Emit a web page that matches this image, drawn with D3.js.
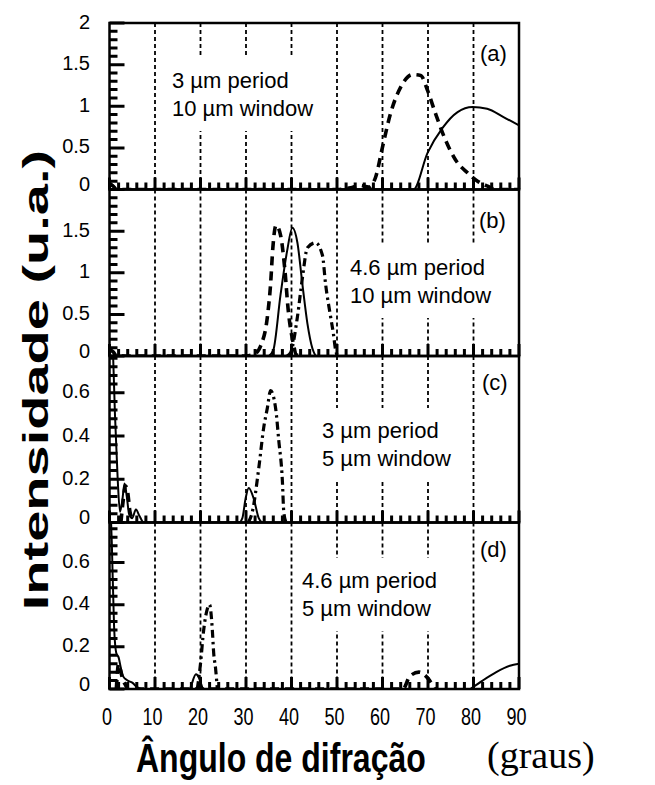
<!DOCTYPE html>
<html><head><meta charset="utf-8">
<script src="https://cdn.jsdelivr.net/npm/d3@7"></script>
<style>body{margin:0;background:#fff}svg{display:block}</style>
</head><body>
<svg id="c" width="655" height="785"></svg>
<script>
// ---------- data ----------
const xTickLabels = [0,10,20,30,40,50,60,70,80,90];
const gridAngles = [10,20,30,40,50,60,70,80];
const panelLetters = ["(a)","(b)","(c)","(d)"];
const periodText = ["3 \u00b5m period","4.6 \u00b5m period","3 \u00b5m period","4.6 \u00b5m period"];
const windowText = ["10 \u00b5m window","10 \u00b5m window","5 \u00b5m window","5 \u00b5m window"];
const yMax = [2, 2, 0.77, 0.79];
const yTicksA = [0,0.5,1,1.5,2];
const yTicksB = [0,0.5,1,1.5];
const yTicksC = [0,0.2,0.4,0.6];
const yTicksD = [0,0.2,0.4,0.6];
const yMinorStep = [0.1,0.1,0.04,0.04];

// panel (a)
const aDashX = [0,0.8,1.6,50,53,55,57,58.5,60,61.8,64,66.6,68.4,69.9,71.6,73.8,76,78.7,80.9,83.1,85,90];
const aDashY = [0.07,0.04,0,0,0.02,0.05,0.03,0.15,0.51,0.92,1.23,1.38,1.37,1.19,0.92,0.6,0.36,0.2,0.1,0.04,0,0];
const aSolidX = [0,0.8,1.6,60,66.8,69.9,73.2,76.5,79.8,83,86.6,90];
const aSolidY = [0.09,0.05,0,0,0,0.44,0.74,0.93,0.99,0.97,0.87,0.77];
// panel (b)
const bDashX = [0,0.8,1.6,30,32,33.2,34.7,35.4,35.9,36.6,37.6,38.5,39.3,40.4,41,42];
const bDashY = [0.08,0.05,0,0,0.03,0.12,0.47,0.86,1.3,1.57,1.45,1.06,0.54,0.15,0.02,0];
const bSolidX = [35,36,37.6,39,40.2,41.3,42.4,43.5,44.6,45.3];
const bSolidY = [0,0.07,0.74,1.25,1.54,1.36,0.86,0.39,0.09,0];
const bDashDotX = [39,39.8,41.3,42.4,43.5,45.3,46.8,47.5,48.6,49.2,49.7,50.2];
const bDashDotY = [0,0.04,0.47,0.94,1.3,1.36,1.21,0.86,0.47,0.27,0.07,0];
// panel (c)
const cSolidX = [0,0.6,1.2,1.8,2.3,2.8,3.3,3.8,4.3,5,5.8,6.6,7.5,28.5,29.2,29.9,30.6,31.7,32.8,33.5];
const cSolidY = [1.2,0.9,0.5,0.2,0.05,0.1,0.18,0.12,0.04,0.02,0.06,0.03,0,0,0.02,0.11,0.16,0.11,0.02,0];
const cDashX = [2.5,3,3.5,4,4.5,5];
const cDashY = [0,0.1,0.17,0.14,0.05,0.02];
const cDashDotX = [30.5,31.4,32.8,33.9,34.7,35.4,36.5,37.2,38,38.3,38.8];
const cDashDotY = [0,0.05,0.25,0.44,0.53,0.61,0.53,0.38,0.19,0.05,0];
// panel (d)
const dSolidX = [0,0.5,1,1.5,2,2.5,3,4,5,6,7,17.5,19,20.5];
const dSolidY = [1.0,0.7,0.3,0.17,0.15,0.1,0.06,0.04,0.03,0.01,0,0,0.07,0];
const dSolidRX = [79.3,82,85,88,90];
const dSolidRY = [0,0.04,0.08,0.11,0.12];
const dDashX = [1.5,2,2.5,3,3.5,4,64.5,66,68,70,71.5];
const dDashY = [0,0.12,0.08,0.04,0.02,0,0,0.06,0.08,0.05,0];
const dDashDotX = [19.3,20,20.7,21.5,22,22.6,22.9,23.3,23.7];
const dDashDotY = [0,0.12,0.28,0.38,0.40,0.28,0.17,0.1,0];

// ---------- build ----------
const zip = (xs, ys) => xs.map((v,k)=>[v, ys[k]]);
const series = [
  [{d:zip(aSolidX,aSolidY),s:"solid"},{d:zip(aDashX,aDashY),s:"dash"}],
  [{d:zip(bSolidX,bSolidY),s:"solid"},{d:zip(bDashX,bDashY),s:"dash"},{d:zip(bDashDotX,bDashDotY),s:"dashdot"}],
  [{d:zip(cSolidX,cSolidY),s:"solid"},{d:zip(cDashX,cDashY),s:"dash"},{d:zip(cDashDotX,cDashDotY),s:"dashdot"}],
  [{d:zip(dSolidX,dSolidY),s:"solid"},{d:zip(dSolidRX,dSolidRY),s:"solid"},{d:zip(dDashX,dDashY),s:"dash"},{d:zip(dDashDotX,dDashDotY),s:"dashdot"}]
];
const yTicks = [yTicksA,yTicksB,yTicksC,yTicksD];
const styles = {
  solid:{w:2,da:null},
  dash:{w:3.6,da:"9,6"},
  dashdot:{w:3.2,da:"8,4,2.5,4"}
};
const textPos = [[172,88],[350,275],[322,438],[302,588]];
const letterPos = [[480,61],[479,228],[482,390],[480,557]];

const svg = d3.select("#c");
const font = "'Liberation Sans', Arial, Helvetica, sans-serif";
const x = d3.scaleLinear().domain([0,90]).range([109.5,519]);
const top0 = 23, ph = 166.5;
const defs = svg.append("defs");
const layerPlot = svg.append("g");
const layerAxes = svg.append("g");

const panels = d3.range(4).map(i=>{
  const t = top0 + i*ph, b = t + ph;
  return {i, t, b, y: d3.scaleLinear().domain([0,yMax[i]]).range([b,t])};
});

panels.forEach(P=>{
  const {i,t,b,y} = P;
  defs.append("clipPath").attr("id","clip"+i).append("rect")
    .attr("x",x(0)).attr("y",t).attr("width",x(90)-x(0)).attr("height",ph);
  const g = layerPlot.append("g");
  g.append("g").selectAll("line").data(gridAngles).join("line")
    .attr("x1",d=>x(d)).attr("x2",d=>x(d)).attr("y1",t).attr("y2",b)
    .attr("stroke","#000").attr("stroke-width",1.8).attr("stroke-dasharray","4,3");
  const tg = g.append("g");
  const tt = tg.append("text").attr("font-family",font).attr("font-size",22).attr("fill","#000");
  tt.append("tspan").attr("x",textPos[i][0]).attr("y",textPos[i][1]).text(periodText[i]);
  tt.append("tspan").attr("x",textPos[i][0]).attr("y",textPos[i][1]+28).text(windowText[i]);
  const bb = tt.node().getBBox();
  tg.insert("rect","text").attr("x",bb.x-6).attr("y",bb.y-10).attr("width",bb.width+12).attr("height",bb.height+20).attr("fill","#fff");
  g.append("text").attr("x",letterPos[i][0]).attr("y",letterPos[i][1]).attr("font-family",font)
    .attr("font-size",22).attr("fill","#000").text(panelLetters[i]);
  const line = d3.line().x(d=>x(d[0])).y(d=>y(d[1])).curve(d3.curveMonotoneX);
  const cg = g.append("g").attr("clip-path",`url(#clip${i})`);
  series[i].forEach(sr=>{
    const st = styles[sr.s];
    const p = cg.append("path").attr("d",line(sr.d)).attr("fill","none").attr("stroke","#000")
      .attr("stroke-width",st.w).attr("stroke-linejoin","round");
    if (st.da) p.attr("stroke-dasharray",st.da);
  });
});

panels.forEach(P=>{
  const {i,t,b,y} = P;
  const g = layerAxes.append("g");
  g.append("rect").attr("x",x(0)).attr("y",t).attr("width",x(90)-x(0)).attr("height",ph)
    .attr("fill","none").attr("stroke","#000").attr("stroke-width",2.5);
  // inward tick marks, one path positioned by the scales
  const tp = d3.path();
  d3.range(0,91,2).forEach(d=>{ tp.moveTo(x(d), b); tp.lineTo(x(d), b - (d%10===0?12:7)); });
  const nMinor = Math.floor(yMax[i]/yMinorStep[i]+1e-6);
  d3.range(0,nMinor+1).map(k=>k*yMinorStep[i]).forEach(d=>{ tp.moveTo(x(0), y(d)); tp.lineTo(x(0)+8, y(d)); });
  yTicks[i].forEach(d=>{ tp.moveTo(x(0), y(d)); tp.lineTo(x(0)+15, y(d)); });
  g.append("path").attr("d",tp.toString()).attr("fill","none").attr("stroke","#000")
    .attr("stroke-width",3).attr("stroke-linecap","butt");
  if (i===3){
    const xa = g.append("g").attr("transform",`translate(0,${b})`)
      .call(d3.axisBottom(x).tickValues(xTickLabels).tickSize(0).tickFormat(d3.format("d")));
    xa.select(".domain").remove();
    xa.selectAll("text").attr("font-family",font).attr("font-size",18).attr("fill","#000")
      .attr("y",0).attr("dy",0).attr("transform","translate(-3,36) scale(1,1.3)");
  }
  const ya = g.append("g").attr("transform",`translate(${x(0)},0)`)
    .call(d3.axisLeft(y).tickValues(yTicks[i]).tickSize(0).tickPadding(19.5).tickFormat(d3.format("")));
  ya.select(".domain").remove();
  ya.selectAll("text").attr("font-family",font).attr("font-size",20).attr("fill","#000")
    .attr("dy",d=> d===0 ? "0.05em" : "0.25em");
});

svg.append("text").attr("transform","translate(136,772) scale(1,1.28)")
  .attr("font-family",font).attr("font-weight","bold").attr("font-size",32).attr("fill","#000").text("\u00c2ngulo de difra\u00e7\u00e3o");
svg.append("text").attr("transform","translate(487,768)")
  .attr("font-family","'Liberation Serif','Times New Roman',serif").attr("font-size",38).attr("fill","#000").text("(graus)");
svg.append("text").attr("transform","translate(48,380) rotate(-90) scale(1.6,1)").attr("text-anchor","middle")
  .attr("font-family",font).attr("font-weight","bold").attr("font-size",35).attr("fill","#000").text("Intensidade (u.a.)");
</script>
</body></html>
